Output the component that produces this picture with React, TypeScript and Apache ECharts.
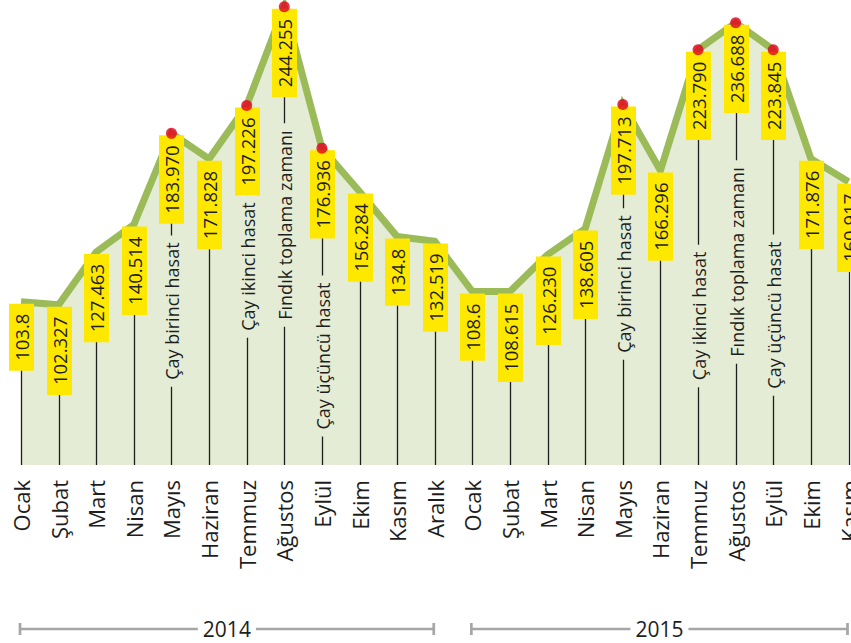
import React, { useEffect, useRef } from "react";
import * as echarts from "echarts";

// ---- data ----
const months = [
  "Ocak", "Şubat", "Mart", "Nisan", "Mayıs", "Haziran", "Temmuz", "Ağustos", "Eylül", "Ekim", "Kasım", "Aralık",
  "Ocak", "Şubat", "Mart", "Nisan", "Mayıs", "Haziran", "Temmuz", "Ağustos", "Eylül", "Ekim", "Kasım",
];
const values = [
  103.8, 102.327, 127.463, 140.514, 183.97, 171.828, 197.226, 244.255, 176.936, 156.284, 134.8, 132.519,
  108.6, 108.615, 126.23, 138.605, 197.713, 166.296, 223.79, 236.688, 223.845, 171.876, 160.917,
];
const valueLabels = [
  "103.8", "102.327", "127.463", "140.514", "183.970", "171.828", "197.226", "244.255", "176.936", "156.284", "134.8", "132.519",
  "108.6", "108.615", "126.230", "138.605", "197.713", "166.296", "223.790", "236.688", "223.845", "171.876", "160.917",
];
const highlighted = [4, 6, 7, 8, 16, 18, 19, 20];
const annotationIndex = [4, 6, 7, 8, 16, 18, 19, 20];
const annotationText = [
  "Çay birinci hasat", "Çay ikinci hasat", "Fındık toplama zamanı", "Çay üçüncü hasat",
  "Çay birinci hasat", "Çay ikinci hasat", "Fındık toplama zamanı", "Çay üçüncü hasat",
];
const years = ["2014", "2015"];
const yearStart = [0, 12];
const yearEnd = [11, 22];

// ---- layout (annotation centres, in value units of the y axis) ----
const annotationAt = [99.3, 120.5, 140.3, 77.9, 112.2, 97.0, 122.7, 97.4];

const Y_MIN = 26;
const Y_MAX = 247.5;
const FONT = '"Open Sans", "Noto Sans", sans-serif';
const AREA = "#e4ecd5";
const LINE = "#9bbb59";
const YELLOW = "#ffe800";
const INK = "#1e1e1e";

export default function App() {
  const ref = useRef<HTMLDivElement>(null);
  useEffect(() => {
    if (!ref.current) return;
    const chart = echarts.init(ref.current, undefined, { renderer: "svg" });
    const option: any = {
      animation: false,
      backgroundColor: "#ffffff",
      grid: { left: 21, right: 2.5, top: 0, bottom: 178, containLabel: false, outerBoundsMode: "none" },
      xAxis: {
        type: "category",
        data: months,
        boundaryGap: false,
        axisLine: { show: false },
        axisTick: { show: false },
        splitLine: { show: false },
        axisLabel: {
          interval: 0,
          rotate: 90,
          margin: 15,
          fontSize: 22,
          color: INK,
          fontFamily: FONT,
        },
      },
      yAxis: {
        type: "value",
        min: Y_MIN,
        max: Y_MAX,
        show: false,
        splitLine: { show: false },
      },
      series: [
        {
          type: "line",
          data: values,
          symbol: "none",
          z: 2,
          lineStyle: { color: LINE, width: 7, join: "miter" },
          areaStyle: { color: AREA, opacity: 1 },
          silent: true,
        },
        {
          type: "custom",
          z: 3,
          data: values.map((v, i) => [i, v]),
          renderItem: (params: any, api: any) => {
            const i = params.dataIndex;
            const p = api.coord([i, api.value(1)]);
            const base = api.coord([i, Y_MIN])[1];
            const x = Math.round(p[0]) + 0.5;
            const y = p[1];
            const children: any[] = [
              {
                type: "line",
                shape: { x1: x, y1: y + 12, x2: x, y2: base },
                style: { stroke: INK, lineWidth: 1.3 },
              },
              {
                type: "text",
                x,
                y: y + 2,
                rotation: Math.PI / 2,
                style: {
                  text: valueLabels[i],
                  fill: INK,
                  font: `18.5px ${FONT}`,
                  align: "right",
                  verticalAlign: "middle",
                  backgroundColor: YELLOW,
                  padding: [3, 10, 3, 10],
                },
              },
            ];
            const k = annotationIndex.indexOf(i);
            if (k >= 0) {
              const ay = api.coord([i, annotationAt[k]])[1];
              children.push({
                type: "text",
                x,
                y: ay,
                rotation: Math.PI / 2,
                style: {
                  text: annotationText[k],
                  fill: INK,
                  font: `18px ${FONT}`,
                  align: "center",
                  verticalAlign: "middle",
                  backgroundColor: AREA,
                  padding: [0, 7, 0, 7],
                },
              });
            }
            return { type: "group", children };
          },
        },
        {
          type: "scatter",
          z: 4,
          data: values.map((v, i) => (highlighted.includes(i) ? v : "-")),
          symbol: "circle",
          symbolSize: 11,
          itemStyle: { color: "#e3001b" },
          silent: true,
        },
        {
          type: "custom",
          z: 5,
          clip: false,
          data: years.map((_, j) => [yearStart[j], yearEnd[j]]),
          renderItem: (params: any, api: any) => {
            const j = params.dataIndex;
            const a = api.coord([yearStart[j], Y_MIN]);
            const b = api.coord([yearEnd[j], Y_MIN]);
            const x1 = a[0] - 1;
            const x2 = b[0] - 1;
            const yy = a[1] + 164;
            const col = "#a6a6a6";
            return {
              type: "group",
              children: [
                { type: "line", shape: { x1, y1: yy, x2, y2: yy }, style: { stroke: col, lineWidth: 2.7 } },
                { type: "line", shape: { x1, y1: yy - 6, x2: x1, y2: yy + 6 }, style: { stroke: col, lineWidth: 2.7 } },
                { type: "line", shape: { x1: x2, y1: yy - 6, x2, y2: yy + 6 }, style: { stroke: col, lineWidth: 2.7 } },
                {
                  type: "text",
                  x: (x1 + x2) / 2,
                  y: yy,
                  style: {
                    text: years[j],
                    fill: INK,
                    font: `21px ${FONT}`,
                    align: "center",
                    verticalAlign: "middle",
                    backgroundColor: "#ffffff",
                    padding: [0, 5, 0, 5],
                  },
                },
              ],
            };
          },
        },
      ],
    };
    chart.setOption(option);
    return () => chart.dispose();
  }, []);
  return (
    <div
      ref={ref}
      style={{ position: "fixed", left: 0, top: 0, width: 851, height: 643, background: "#fff" }}
    />
  );
}
